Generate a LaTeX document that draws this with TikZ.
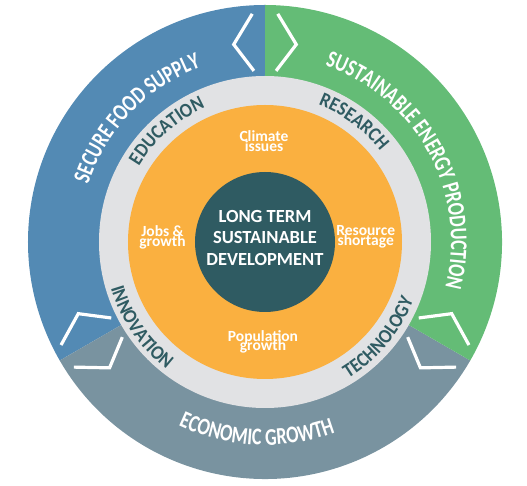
\documentclass[tikz,border=0pt]{standalone}
\usepackage{fontspec}
\setmainfont{Carlito}
\newfontfamily\archfont[FakeStretch=0.76]{Carlito}
\newfontfamily\ringfont[FakeStretch=0.9]{Carlito}
\usepackage{tikz}
\usetikzlibrary{decorations.text}

\definecolor{foodblue}{HTML}{538AB4}
\definecolor{energygreen}{HTML}{64BC76}
\definecolor{econgrey}{HTML}{7993A0}
\definecolor{ringgrey}{HTML}{E1E2E4}
\definecolor{issueorange}{HTML}{FAB040}
\definecolor{coreteal}{HTML}{2F5B62}

\begin{document}
\begin{tikzpicture}[x=1pt,y=1pt,
  chev/.style={white,line width=3.2pt},
  outerlbl/.style={decorate,decoration={text along path,text align=center,
    text={|\archfont\fontsize{24}{24}\selectfont\bfseries\color{white}|#1}}},
  innerlbl/.style={decorate,decoration={text along path,text align=center,
    text={|\ringfont\fontsize{20}{20}\selectfont\bfseries\color{coreteal}|#1}}},
  issue/.style={text=white,align=center,font=\fontsize{15.5}{9.5}\selectfont\bfseries,
    execute at begin node={\lineskiplimit=-20pt}}]
\useasboundingbox (-265,-244) rectangle (262,242);

\fill[foodblue] (0,0) -- (90:237) arc (90:210:237) -- cycle;
\fill[econgrey] (0,0) -- (210:237) arc (210:330:237) -- cycle;
\fill[energygreen] (0,0) -- (330:237) arc (330:450:237) -- cycle;
\fill[ringgrey] (0,0) circle (166);
\fill[issueorange] (0,0) circle (137);
\fill[coreteal] (0,0) circle (70);

\draw[chev] (86.8:228.5) -- (81:200) -- (86.3:171.5);
\draw[chev] (93.2:228.5) -- (99:200) -- (93.7:171.5);
\draw[chev] (206.8:228.5) -- (201:200) -- (206.3:171.5);
\draw[chev] (213.2:228.5) -- (219:200) -- (213.7:171.5);
\draw[chev] (326.8:228.5) -- (321:200) -- (326.3:171.5);
\draw[chev] (333.2:228.5) -- (339:200) -- (333.7:171.5);

\path[outerlbl={SECURE FOOD SUPPLY}] (186:186) arc (186:86:186);
\path[outerlbl={SUSTAINABLE ENERGY PRODUCTION}] (88.5:186) arc (88.5:-31.5:186);
\path[outerlbl={ECONOMIC GROWTH}] (222.5:203) arc (222.5:312.5:203);

\path[innerlbl={EDUCATION}] (176.5:147) arc (176.5:86.5:147);
\path[innerlbl={RESEARCH}] (98.5:147) arc (98.5:8.5:147);
\path[innerlbl={INNOVATION}] (169.5:161) arc (169.5:259.5:161);
\path[innerlbl={TECHNOLOGY}] (275:159.5) arc (275:365:159.5);

\node[issue] (climate) at (-1,101) {Climate\\issues};
\node[issue] (jobs) at (-102.5,4.5) {Jobs \&\\growth};
\node[issue] (resource) at (100.7,5) {Resource\\shortage};
\node[issue] (population) at (-2,-100) {Population\\growth};

\node[text=white,align=center,font=\fontsize{18.5}{21.7}\selectfont\bfseries] (core) at (0,4)
  {LONG TERM\\SUSTAINABLE\\DEVELOPMENT};
\end{tikzpicture}
\end{document}
